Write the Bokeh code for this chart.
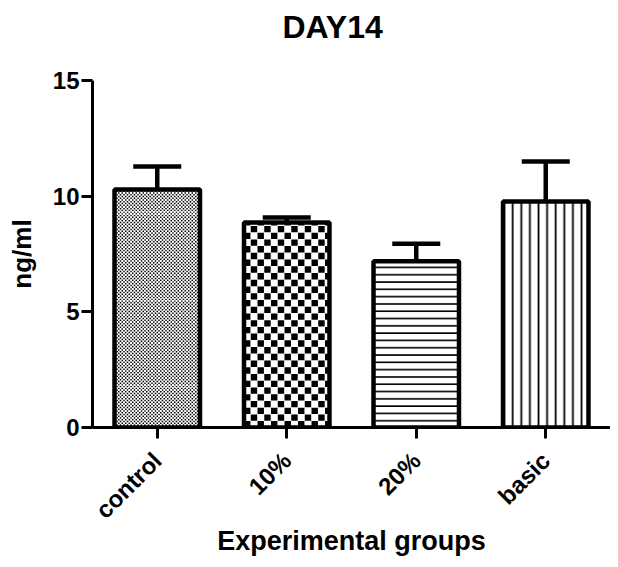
from math import pi
from bokeh.plotting import figure
from bokeh.models import (ColumnDataSource, FactorRange, Range1d, FixedTicker,
                          Whisker, TeeHead, Title)
from bokeh.embed import file_html
from bokeh.resources import INLINE

categories = ["control", "10%", "20%", "basic"]
means = [10.29, 8.86, 7.19, 9.77]
upper = [11.28, 9.08, 7.94, 11.50]
y_ticks = [0, 5, 10, 15]
title_text = "DAY14"

FONT = "Liberation Sans"
W, H = 610, 559
BL, BR, BT, BB = 92, 0, 80, 131
Y_MAX = 15.0
BAR_W = 0.66
PX_PER_FACTOR = (W - BL - BR) / len(categories)
PX_PER_UNIT = (H - BT - BB) / Y_MAX

src = ColumnDataSource(dict(cats=categories, means=means, upper=upper))

p = figure(x_range=FactorRange(*categories), y_range=Range1d(0, Y_MAX),
           width=W, height=H, output_backend="svg", toolbar_location=None,
           min_border_left=BL, min_border_right=BR, min_border_top=BT,
           min_border_bottom=BB, title_location=None)

# white bar bodies, with line hatches for the 20% and basic groups
hatch = {"20%": dict(hatch_pattern="horizontal_line", hatch_scale=7.3, hatch_weight=1.6),
         "basic": dict(hatch_pattern="vertical_line", hatch_scale=8.6, hatch_weight=1.8)}
for i, c in enumerate(categories):
    s = ColumnDataSource(dict(cats=[c], means=[means[i]]))
    p.vbar(x="cats", top="means", bottom=0, width=BAR_W, source=s,
           fill_color="white", line_color=None, hatch_color="black",
           **hatch.get(c, {}))


def checker(cat, cell_px, fill_frac):
    k = categories.index(cat)
    center = k + 0.5
    top = means[k]
    cx = cell_px / PX_PER_FACTOR
    cy = cell_px / PX_PER_UNIT
    left0, right0 = center - BAR_W / 2, center + BAR_W / 2
    L, R, B, T = [], [], [], []
    j, y = 0, 0.0
    while y < top:
        i, x = 0, left0
        while x < right0:
            if (i + j) % 2 == 0:
                L.append(x); R.append(min(x + cx * fill_frac, right0))
                B.append(y); T.append(min(y + cy * fill_frac, top))
            x += cx
            i += 1
        y += cy
        j += 1
    p.quad(left=L, right=R, bottom=B, top=T, fill_color="black", line_color=None)


checker("control", 1.75, 0.85)
checker("10%", 6.75, 0.95)

# outlines
p.vbar(x="cats", top="means", bottom=0, width=BAR_W, source=src,
       fill_color=None, line_color="black", line_width=4.5)

wh = Whisker(base="cats", upper="upper", lower="means", source=src,
             dimension="height", line_width=4.5, line_color="black",
             upper_head=TeeHead(size=48, line_width=4.5, line_color="black"),
             lower_head=None)
p.add_layout(wh)

# spacer between frame and title, then the title itself
spacer = Title(text=" ", text_font_size="10px", standoff=23)
p.add_layout(spacer, "above")
main_title = Title(text=title_text, text_font=FONT, text_font_size="32px",
                   text_font_style="bold", text_color="black",
                   align="left", offset=190, standoff=0)
p.add_layout(main_title, "above")

p.xgrid.visible = False
p.ygrid.visible = False
p.outline_line_color = None

for ax in (p.xaxis[0], p.yaxis[0]):
    ax.axis_line_width = 3
    ax.major_tick_line_width = 3
    ax.major_tick_out = 11
    ax.major_tick_in = 0
    ax.minor_tick_line_color = None
    ax.major_label_text_font = FONT
    ax.major_label_text_font_style = "bold"
    ax.major_label_text_color = "black"
    ax.axis_label_text_font = FONT
    ax.axis_label_text_font_style = "bold"
    ax.axis_label_text_color = "black"

p.yaxis.ticker = FixedTicker(ticks=y_ticks)
p.yaxis.major_label_text_font_size = "24px"
p.yaxis.major_label_standoff = 2
p.yaxis.axis_label = "ng/ml"
p.yaxis.axis_label_text_font_size = "26px"
p.yaxis.axis_label_standoff = 13

p.xaxis.major_label_orientation = pi / 4
p.xaxis.major_label_text_font_size = "24px"
p.xaxis.major_label_standoff = 18
p.xaxis.axis_label = "Experimental groups"
p.xaxis.axis_label_text_font_size = "27px"
p.xaxis.axis_label_standoff = -10

open("out.html", "w").write(file_html(p, INLINE))
